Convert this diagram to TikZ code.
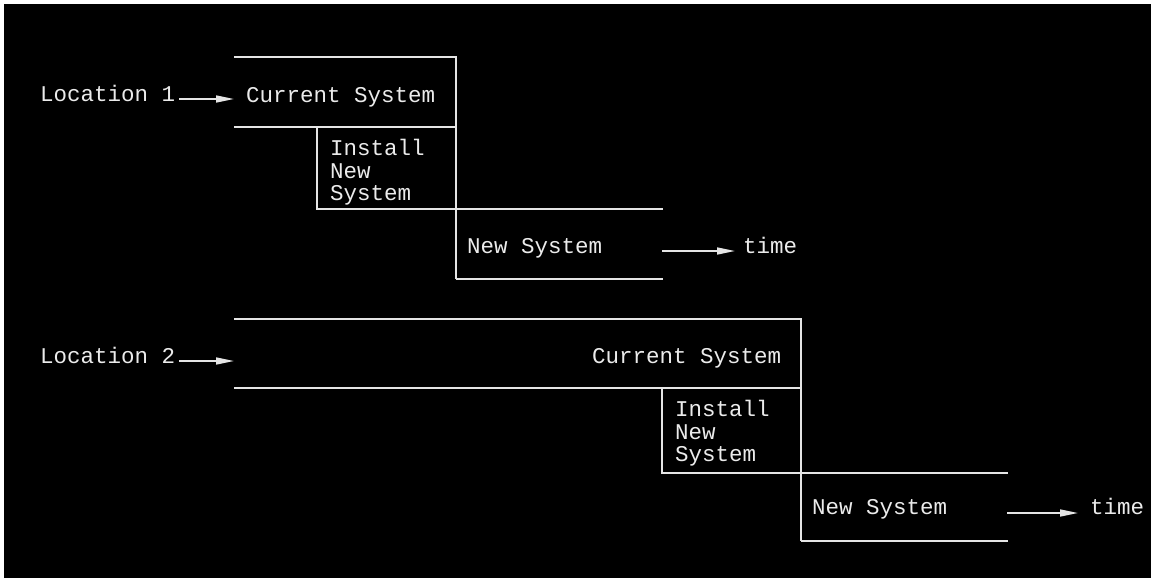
\documentclass[tikz,border=0pt]{standalone}
\usepackage{fontspec}
\setmonofont{Liberation Mono}
\usetikzlibrary{arrows.meta}
\begin{document}
\begin{tikzpicture}[x=1pt,y=-1pt,
  line/.style={draw=white!90!black,line width=1.6pt},
  lbl/.style={text=white!92!black,anchor=base west,inner sep=0pt,font=\ttfamily\fontsize{22.5}{23}\selectfont},
  ml/.style={lbl,align=left,font=\ttfamily\fontsize{22.5}{22.5}\selectfont,anchor=north west},
  arr/.style={line,-{Triangle[length=18pt,width=7pt]}}]
\useasboundingbox (0,0) rectangle (1151,578);
\fill[white] (0,0) rectangle (1151,578);
\fill[black] (4,4) rectangle (1151,578);
% ---------- Location 1 ----------
\draw[line] (234,57) -- (456,57) -- (456,279);
\draw[line] (234,127) -- (456,127);
\draw[line] (317,127) -- (317,209) -- (663,209);
\draw[line] (456,279) -- (663,279);
\node[lbl] (loc1) at (40,101) {Location 1};
\node[lbl] (cur1) at (246,102) {Current System};
\node[ml] (ins1) at (330,139) {Install\\New\\System};
\node[lbl] (new1) at (467,253) {New System};
\node[lbl] (time1) at (743,253) {time};
\coordinate (in1) at (234,99);
\coordinate (out1) at (662,251);
\draw[arr] (179,99) -- (in1);
\draw[arr] (out1) -- (735,251);
% ---------- Location 2 ----------
\draw[line] (234,319) -- (801,319) -- (801,541);
\draw[line] (234,388) -- (801,388);
\draw[line] (662,388) -- (662,473) -- (1008,473);
\draw[line] (801,541) -- (1008,541);
\node[lbl] (loc2) at (40,363) {Location 2};
\node[lbl] (cur2) at (592,363) {Current System};
\node[ml] (ins2) at (675,400) {Install\\New\\System};
\node[lbl] (new2) at (812,514) {New System};
\node[lbl] (time2) at (1090,514) {time};
\coordinate (in2) at (234,361);
\coordinate (out2) at (1007,513);
\draw[arr] (179,361) -- (in2);
\draw[arr] (out2) -- (1078,513);
\end{tikzpicture}
\end{document}
